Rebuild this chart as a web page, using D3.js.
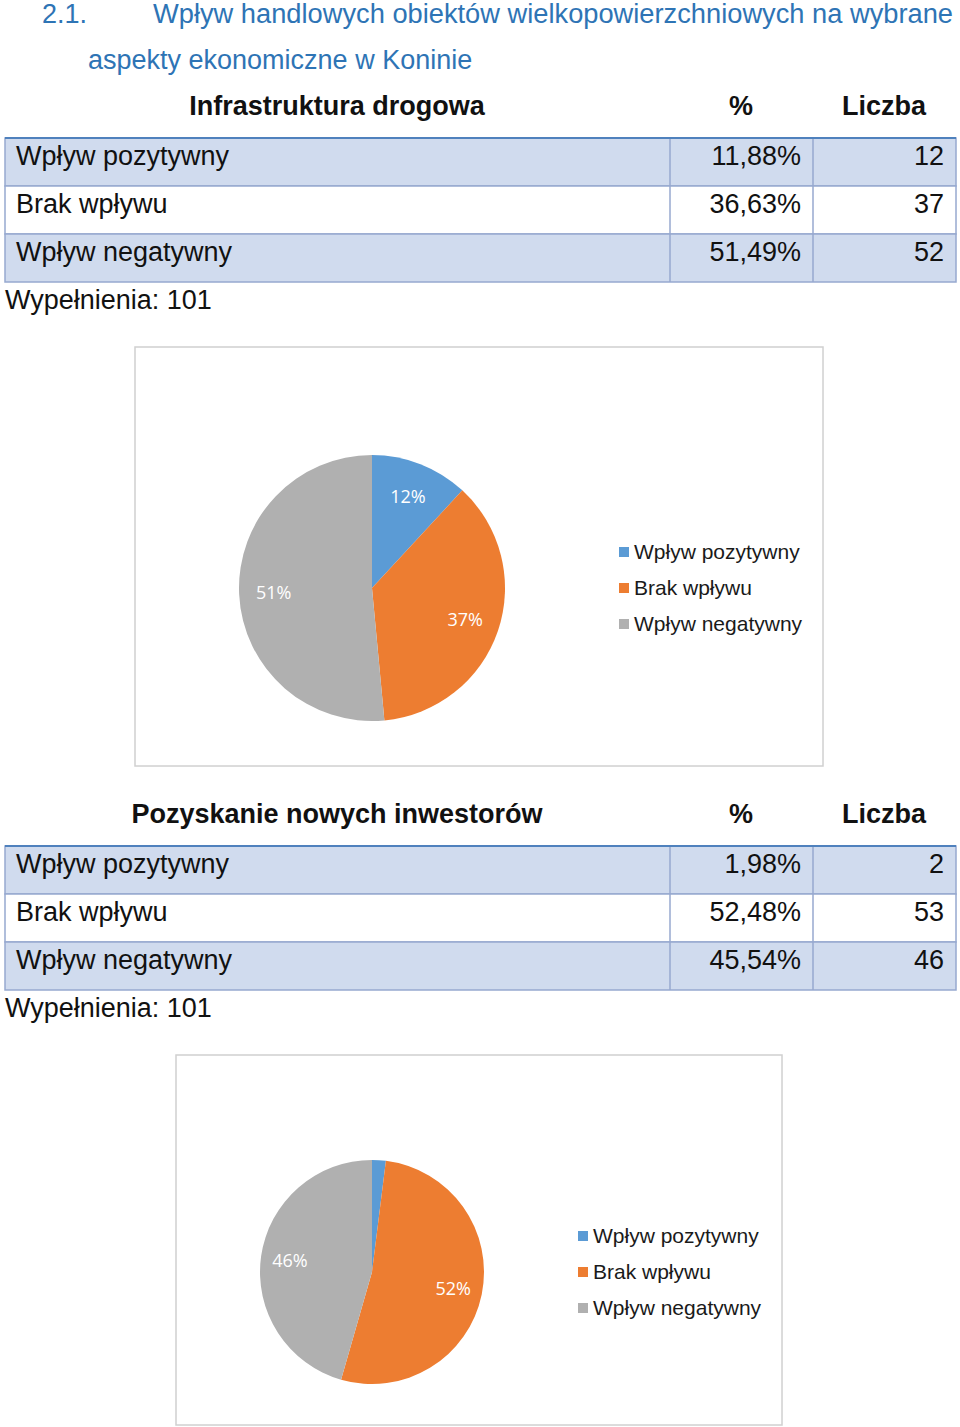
<!DOCTYPE html>
<html><head><meta charset="utf-8">
<script src="https://cdn.jsdelivr.net/npm/d3@7"></script>
<style>body{margin:0;background:#fff}svg{display:block}</style>
</head><body>
<script>
const categories = ["Wpływ pozytywny", "Brak wpływu", "Wpływ negatywny"];
const titles = ["Infrastruktura drogowa", "Pozyskanie nowych inwestorów"];
const counts1 = [12, 37, 52];
const pct1 = ["11,88%", "36,63%", "51,49%"];
const counts2 = [2, 53, 46];
const pct2 = ["1,98%", "52,48%", "45,54%"];
const totals = [101, 101];
const colors = ["#5B9BD5", "#ED7D31", "#B0B0B0"];

const W = 960, H = 1427;
const svg = d3.select("body").append("svg").attr("width", W).attr("height", H);
const F = "Liberation Sans, Arial, sans-serif";

// Heading
svg.append("text").attr("x", 42).attr("y", 23).attr("font-family", F).attr("font-size", 27).attr("fill", "#2E74B5").text("2.1.");
svg.append("text").attr("x", 153).attr("y", 23).attr("font-family", F).attr("font-size", 27).attr("fill", "#2E74B5")
  .attr("textLength", 800).attr("lengthAdjust", "spacingAndGlyphs")
  .text("Wpływ handlowych obiektów wielkopowierzchniowych na wybrane");
svg.append("text").attr("x", 88).attr("y", 69).attr("font-family", F).attr("font-size", 27).attr("fill", "#2E74B5").text("aspekty ekonomiczne w Koninie");

function table(y0, title, pcts, counts, total) {
  const g = svg.append("g");
  const cols = d3.scaleOrdinal().domain(["label", "pct", "cnt"]).range([5, 670, 813]);
  const colEnd = 956;
  const rowY = d3.scaleBand().domain(d3.range(categories.length)).range([y0 + 32, y0 + 32 + 48 * 3]);
  g.append("text").attr("x", 337).attr("y", y0 + 9).attr("text-anchor", "middle").attr("font-family", F)
    .attr("font-weight", "bold").attr("font-size", 27).attr("fill", "#111").text(title);
  g.append("text").attr("x", 741).attr("y", y0 + 9).attr("text-anchor", "middle").attr("font-family", F)
    .attr("font-weight", "bold").attr("font-size", 27).attr("fill", "#111").text("%");
  g.append("text").attr("x", 884).attr("y", y0 + 9).attr("text-anchor", "middle").attr("font-family", F)
    .attr("font-weight", "bold").attr("font-size", 27).attr("fill", "#111").text("Liczba");
  categories.forEach((c, i) => {
    const y = rowY(i), h = rowY.bandwidth();
    g.append("rect").attr("x", 5).attr("y", y).attr("width", colEnd - 5).attr("height", h)
      .attr("fill", i % 2 === 0 ? "#D0DBEE" : "#FFFFFF").attr("stroke", "#97A9CF").attr("stroke-width", 1.5);
    g.append("line").attr("x1", cols("pct")).attr("x2", cols("pct")).attr("y1", y).attr("y2", y + h).attr("stroke", "#97A9CF").attr("stroke-width", 1.5);
    g.append("line").attr("x1", cols("cnt")).attr("x2", cols("cnt")).attr("y1", y).attr("y2", y + h).attr("stroke", "#97A9CF").attr("stroke-width", 1.5);
    g.append("text").attr("x", 16).attr("y", y + 27).attr("font-family", F).attr("font-size", 27).attr("fill", "#111").text(c);
    g.append("text").attr("x", 801).attr("y", y + 27).attr("text-anchor", "end").attr("font-family", F).attr("font-size", 27).attr("fill", "#111").text(pcts[i]);
    g.append("text").attr("x", 944).attr("y", y + 27).attr("text-anchor", "end").attr("font-family", F).attr("font-size", 27).attr("fill", "#111").text(counts[i]);
  });
  g.append("line").attr("x1", 5).attr("x2", colEnd).attr("y1", rowY(0)).attr("y2", rowY(0)).attr("stroke", "#4F81BD").attr("stroke-width", 2);
  g.append("text").attr("x", 5).attr("y", rowY(2) + 48 + 27).attr("font-family", F).attr("font-size", 27).attr("fill", "#111")
    .text("Wypełnienia: " + total);
}

function pieChart(frame, cx, cy, r, counts, legX, legY) {
  const g = svg.append("g");
  g.append("rect").attr("x", frame[0]).attr("y", frame[1]).attr("width", frame[2]).attr("height", frame[3])
    .attr("fill", "#fff").attr("stroke", "#D0D0D0").attr("stroke-width", 1.5);
  const pie = d3.pie().sort(null).value(d => d);
  const arcs = pie(counts);
  const arc = d3.arc().innerRadius(0).outerRadius(r);
  const lab = d3.arc().innerRadius(r * 0.74).outerRadius(r * 0.74);
  const total = d3.sum(counts);
  const pg = g.append("g").attr("transform", `translate(${cx},${cy})`);
  pg.selectAll("path").data(arcs).join("path").attr("d", arc).attr("fill", (d, i) => colors[i]);
  pg.selectAll("text").data(arcs.filter(d => d.value / total > 0.05)).join("text")
    .attr("transform", d => `translate(${lab.centroid(d)})`)
    .attr("text-anchor", "middle").attr("dy", "0.35em")
    .attr("font-family", "Open Sans, Carlito, sans-serif").attr("font-size", 18).attr("fill", "#fff")
    .text(d => Math.round(d.value / total * 100) + "%");
  categories.forEach((c, i) => {
    const y = legY + i * 36;
    g.append("rect").attr("x", legX).attr("y", y - 5).attr("width", 10).attr("height", 10).attr("fill", colors[i]);
    g.append("text").attr("x", legX + 15).attr("y", y + 7).attr("font-family", F).attr("font-size", 21).attr("fill", "#1a1a1a").text(c);
  });
}

table(106, titles[0], pct1, counts1, totals[0]);
pieChart([135, 347, 688, 419], 372, 588, 133, counts1, 619, 552);
table(814, titles[1], pct2, counts2, totals[1]);
pieChart([176, 1055, 606, 370], 372, 1272, 112, counts2, 578, 1236);
</script>
</body></html>
